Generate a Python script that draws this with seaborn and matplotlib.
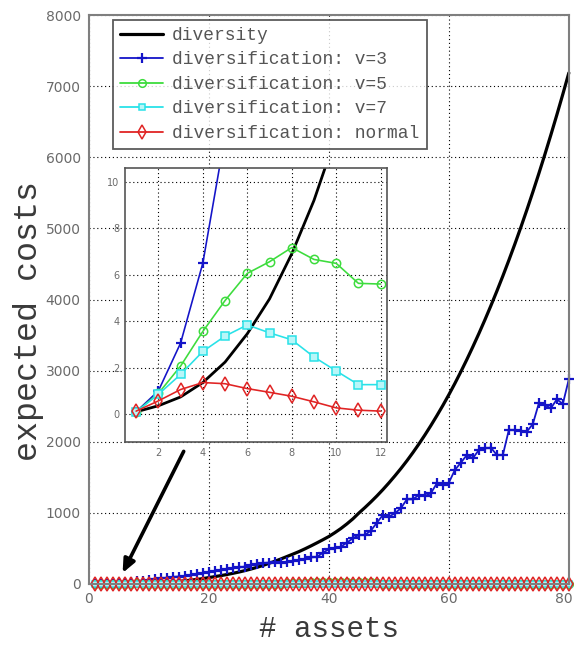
import numpy as np
import pandas as pd
import matplotlib
matplotlib.use("Agg")
import matplotlib.pyplot as plt
import matplotlib.transforms as mtransforms
import seaborn as sns

# ---------------- data ----------------
assets = list(range(1, 81))

diversity = [0.1, 0.36, 0.74, 1.36, 2.24, 3.46, 4.96, 6.9, 9.2, 12.0,
             15.3, 19, 24, 30, 37, 45, 54, 64, 76, 90,
             104, 118, 133, 150, 168, 188, 210, 234, 261, 290,
             320, 352, 386, 420, 455, 494, 535, 578, 622, 668,
             722, 780, 845, 916, 998, 1074, 1154, 1238, 1327, 1421,
             1520, 1623, 1732, 1847, 1968, 2095, 2228, 2367, 2511, 2662,
             2820, 2985, 3157, 3336, 3521, 3713, 3912, 4118, 4331, 4552,
             4780, 5016, 5260, 5512, 5772, 6039, 6314, 6597, 6888, 7187]

div_v3 = [0.1, 1.0, 3.06, 6.5, 12, 19, 27, 36, 46, 56,
          66, 78, 90, 100, 105, 112, 125, 140, 155, 170,
          185, 197, 210, 220, 232, 245, 262, 278, 295, 300,
          312, 295, 305, 322, 335, 350, 375, 380, 440, 488,
          506, 525, 581, 642, 689, 689, 750, 862, 970, 947,
          994, 1065, 1191, 1191, 1252, 1238, 1276, 1416, 1392, 1425,
          1603, 1706, 1814, 1768, 1885, 1908, 1917, 1814, 1814, 2166,
          2166, 2157, 2142, 2250, 2541, 2517, 2471, 2597, 2532, 2879]

div_v5 = [0.1, 0.89, 2.07, 3.56, 4.89, 6.06, 6.56, 7.17, 6.66, 6.49,
          5.63, 5.6, 5.4, 5.2, 5.0, 4.9, 4.8, 4.6, 4.5, 4.4,
          4.3, 4.2, 4.1, 4.0, 4.0, 3.9, 3.9, 3.8, 3.8, 3.7,
          3.7, 3.6, 12, 15, 18, 20, 22, 24, 25, 24,
          23, 22, 21, 20, 22, 24, 25, 18, 3.5, 3.4,
          3.4, 3.3, 3.3, 3.2, 3.2, 3.1, 3.1, 3.0, 3.0, 3.0,
          2.9, 2.9, 2.9, 2.8, 2.8, 2.8, 2.7, 2.7, 2.7, 2.6,
          2.6, 2.6, 2.5, 2.5, 2.5, 2.4, 2.4, 2.4, 2.3, 2.3]

div_v7 = [0.1, 0.85, 1.71, 2.7, 3.36, 3.84, 3.5, 3.2, 2.46, 1.86,
          1.27, 1.27, 1.2, 1.15, 1.1, 1.1, 1.05, 1.0, 1.0, 0.95,
          0.95, 0.9, 0.9, 0.9, 0.85, 0.85, 0.85, 0.8, 0.8, 0.8,
          0.8, 0.75, 0.75, 0.75, 0.75, 0.7, 0.7, 0.7, 0.7, 0.7,
          0.65, 0.65, 0.65, 0.65, 0.65, 0.6, 0.6, 0.6, 0.6, 0.6,
          0.6, 0.55, 0.55, 0.55, 0.55, 0.55, 0.55, 0.5, 0.5, 0.5,
          0.5, 0.5, 0.5, 0.5, 0.45, 0.45, 0.45, 0.45, 0.45, 0.45,
          0.45, 0.4, 0.4, 0.4, 0.4, 0.4, 0.4, 0.4, 0.4, 0.4]

div_normal = [0.13, 0.57, 1.06, 1.36, 1.31, 1.1, 0.94, 0.77, 0.53, 0.27,
              0.17, 0.13, 0.12, 0.12, 0.11, 0.11, 0.1, 0.1, 0.1, 0.1,
              0.1, 0.1, 0.1, 0.1, 0.1, 0.1, 0.1, 0.1, 0.1, 0.1,
              0.1, 0.1, 0.1, 0.1, 0.1, 0.1, 0.1, 0.1, 0.1, 0.1,
              0.1, 0.1, 0.1, 0.1, 0.1, 0.1, 0.1, 0.1, 0.1, 0.1,
              0.1, 0.1, 0.1, 0.1, 0.1, 0.1, 0.1, 0.1, 0.1, 0.1,
              0.1, 0.1, 0.1, 0.1, 0.1, 0.1, 0.1, 0.1, 0.1, 0.1,
              0.1, 0.1, 0.1, 0.1, 0.1, 0.1, 0.1, 0.1, 0.1, 0.1]

labels = ["diversity", "diversification: v=3", "diversification: v=5",
          "diversification: v=7", "diversification: normal"]

main_xticks = [0, 20, 40, 60, 80]
main_yticks = [0, 1000, 2000, 3000, 4000, 5000, 6000, 7000, 8000]
inset_xticks = [2, 4, 6, 8, 10, 12]
inset_yticks = [0, 2, 4, 6, 8, 10]

# ---------------- style ----------------
sns.set_style("white")
plt.rcParams['font.family'] = ['DejaVu Sans']
MONO = ['Liberation Mono', 'DejaVu Sans Mono']
TICKC = '#6a6a6a'
SPINEC = '#7f7f7f'

series = [
    (diversity, labels[0], dict(color='black', lw=2.3, marker=None)),
    (div_v3, labels[1], dict(color='#1414c8', lw=1.3, marker='+', ms=7, mew=1.6)),
    (div_v5, labels[2], dict(color='#3ddc3d', lw=1.3, marker='o', ms=5.5, mew=1.1, mfc='none')),
    (div_v7, labels[3], dict(color='#29e2e8', lw=1.3, marker='s', ms=5, mew=1.1, mfc='#b8f6f8')),
    (div_normal, labels[4], dict(color='#e02424', lw=1.3, marker='d', ms=7, mew=1.1, mfc='none')),
]

fig = plt.figure(figsize=(5.74, 6.45), dpi=100)
ax = fig.add_axes([0.155, 0.0946, 0.836, 0.882])

for vals, lab, st in series:
    df = pd.DataFrame({'assets': assets, 'cost': vals})
    kw = dict(color=st['color'], linewidth=st['lw'], label=lab, clip_on=False)
    if st['marker']:
        kw.update(marker=st['marker'], markersize=st['ms'], markeredgewidth=st['mew'],
                  markeredgecolor=st['color'], markerfacecolor=st.get('mfc', st['color']))
    sns.lineplot(data=df, x='assets', y='cost', ax=ax, legend=False, **kw)

ax.set_xlim(0, 80)
ax.set_ylim(0, 8000)
ax.set_xticks(main_xticks)
ax.set_yticks(main_yticks)
ax.grid(True, color='black', linestyle=(0, (1, 2.5)), linewidth=0.8)
ax.tick_params(direction='in', length=3, color=SPINEC, labelcolor=TICKC, labelsize=10, pad=6)
for s in ax.spines.values():
    s.set_color(SPINEC)
    s.set_linewidth(1.5)
ax.set_xlabel('# assets', fontsize=21, family=MONO, color='#3a3a3a', labelpad=6)
ax.set_ylabel('expected costs', fontsize=24, family=MONO, color='#3a3a3a')
ax.yaxis.set_label_coords(-0.094, 0.463)

# keep the last x tick label inside the figure
fig.canvas.draw()
last = ax.get_xticklabels()[-1]
last.set_transform(last.get_transform() + mtransforms.ScaledTranslation(-5 / 100, 0, fig.dpi_scale_trans))

handles = ax.get_lines()[:5]
leg = ax.legend(handles, labels, loc='upper left', bbox_to_anchor=(0.05, 0.992),
                prop={'family': MONO, 'size': 12.9}, frameon=True, fancybox=False,
                handlelength=2.4, handletextpad=0.5, labelspacing=0.42,
                borderpad=0.4, borderaxespad=0)
leg.get_frame().set_edgecolor('#333333')
leg.get_frame().set_linewidth(1.3)
for t in leg.get_texts():
    t.set_color('#555555')

# arrow pointing to the zoomed region
ax.annotate('', xy=(5.4, 120), xytext=(16.0, 1900),
            arrowprops=dict(arrowstyle='-|>,head_length=0.8,head_width=0.35',
                            color='black', lw=2.6))

# ---------------- inset ----------------
axin = fig.add_axes([0.2178, 0.3147, 0.457, 0.425])
axin.set_facecolor('white')
n = 12
for vals, lab, st in series:
    df = pd.DataFrame({'assets': assets[:n], 'cost': vals[:n]})
    kw = dict(color=st['color'], linewidth=st['lw'] * 0.9 if st['marker'] else 2.0)
    if st['marker']:
        kw.update(marker=st['marker'], markersize=st['ms'] + 0.5, markeredgewidth=st['mew'],
                  markeredgecolor=st['color'], markerfacecolor=st.get('mfc', st['color']))
    sns.lineplot(data=df, x='assets', y='cost', ax=axin, legend=False, **kw)
axin.set_xlim(0.5, 12.3)
axin.set_ylim(-1.2, 10.6)
axin.set_xticks(inset_xticks)
axin.set_yticks(inset_yticks)
axin.grid(True, color='black', linestyle=(0, (1, 2.5)), linewidth=0.8)
axin.tick_params(direction='in', length=2.5, color=SPINEC, labelcolor=TICKC, labelsize=7, pad=4)
axin.set_xlabel('')
axin.set_ylabel('')
for s in axin.spines.values():
    s.set_color('#555555')
    s.set_linewidth(1.2)

fig.savefig('out.png', dpi=100)
